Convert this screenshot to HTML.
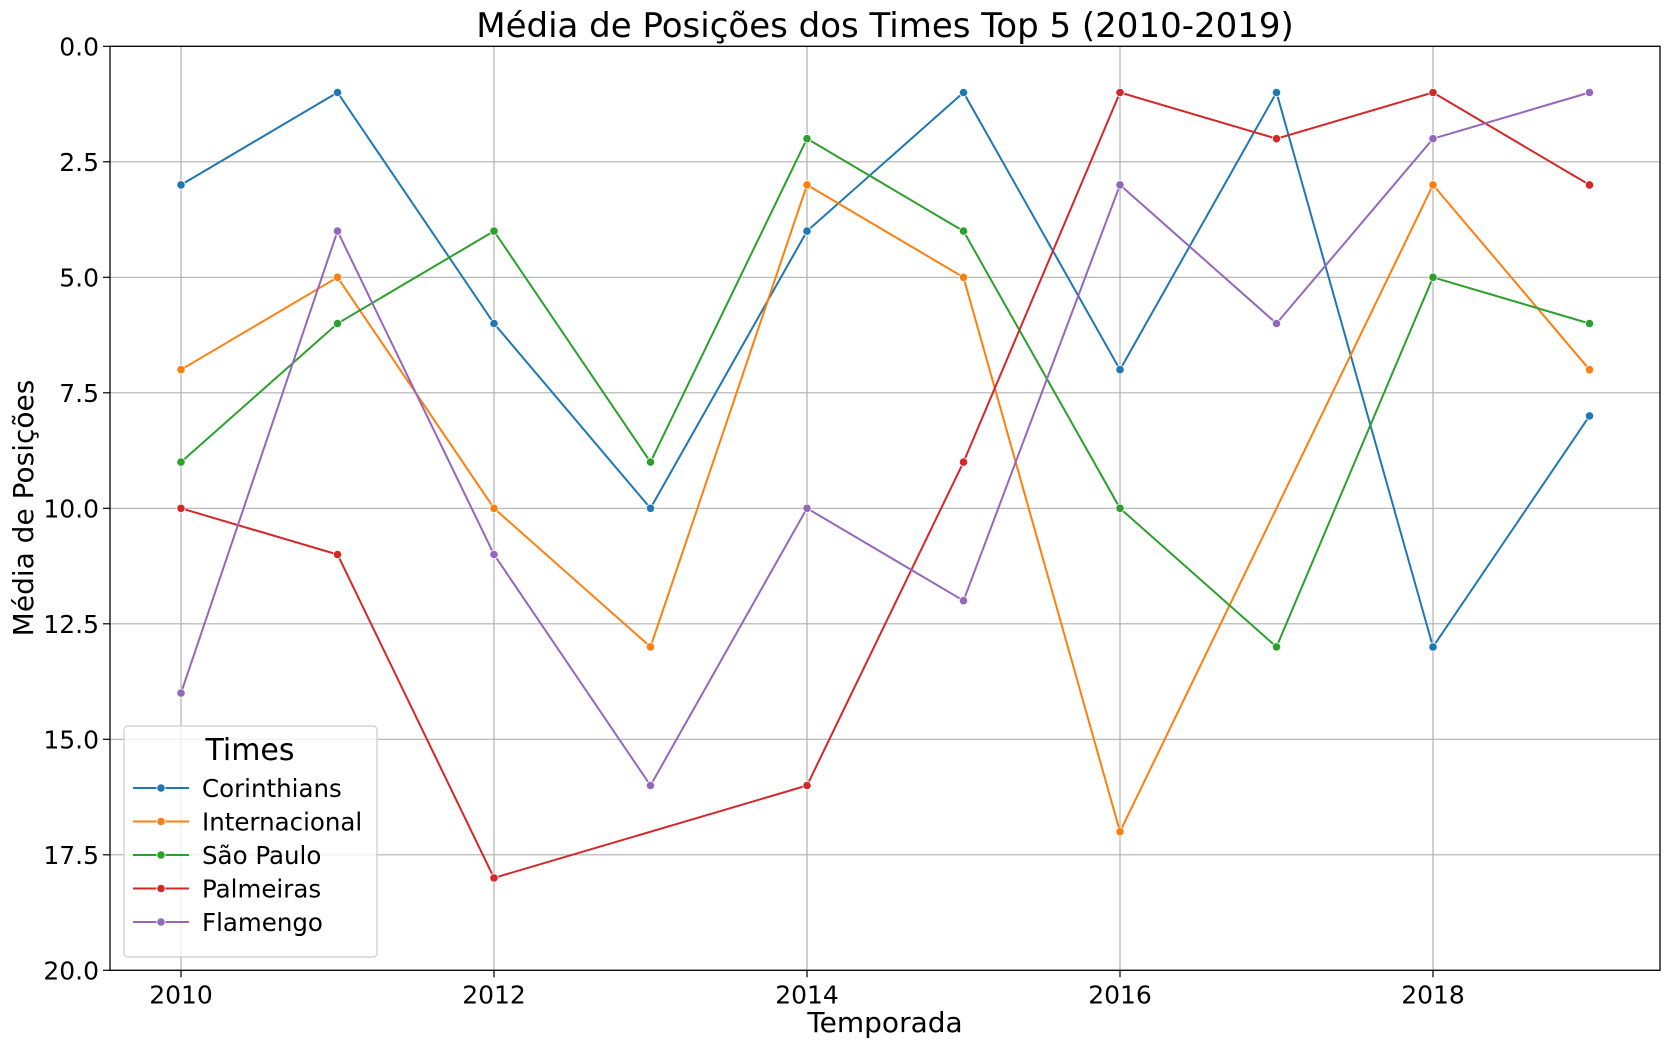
<!DOCTYPE html>
<html><head><meta charset="utf-8"><style>
body{margin:0;background:#fff;}
svg text{font-family:"DejaVu Sans","Liberation Sans",sans-serif;fill:#000;}
</style></head><body>
<svg id="chart" width="1670" height="1047" xmlns="http://www.w3.org/2000/svg">
<rect width="1670" height="1047" fill="#fff"/>
<g id="grid"></g>
<g id="lines"></g>
<rect x="110" y="46.3" width="1550" height="924" fill="none" stroke="#000" stroke-width="1.3"/>
<g id="ticks"></g>
<text x="885" y="37" font-size="34" text-anchor="middle">Média de Posições dos Times Top 5 (2010-2019)</text>
<text x="885" y="1032" font-size="28" text-anchor="middle">Temporada</text>
<text transform="translate(33,508) rotate(-90)" font-size="28" text-anchor="middle">Média de Posições</text>
<g id="legend"></g>
</svg>
<script>
const years=[2010,2011,2012,2013,2014,2015,2016,2017,2018,2019];
const teams=["Corinthians","Internacional","São Paulo","Palmeiras","Flamengo"];
const corinthians=[3,1,6,10,4,1,7,1,13,8];
const internacional=[7,5,10,13,3,5,17,null,3,7];
const saoPaulo=[9,6,4,9,2,4,10,13,5,6];
const palmeiras=[10,11,18,null,16,9,1,2,1,3];
const flamengo=[14,4,11,16,10,12,3,6,2,1];
const xTicks=[2010,2012,2014,2016,2018];
const yTicks=[0,2.5,5,7.5,10,12.5,15,17.5,20];
const colors=["#1f77b4","#ff7f0e","#2ca02c","#d62728","#9467bd"];
const series=[corinthians,internacional,saoPaulo,palmeiras,flamengo];
const L=110,R=1660,T=46.3,B=970.3;
const x=v=>181+(v-2010)*(1433-181)/8;
const y=v=>T+(v-0)*(B-T)/20;
const NS="http://www.w3.org/2000/svg";
function mk(tag,attrs,parent){const e=document.createElementNS(NS,tag);for(const k in attrs)e.setAttribute(k,attrs[k]);parent.appendChild(e);return e;}
const grid=document.getElementById('grid'),ticks=document.getElementById('ticks'),lines=document.getElementById('lines'),leg=document.getElementById('legend');
xTicks.forEach(t=>{
 const g=mk('line',{x1:x(t),x2:x(t),y1:T,y2:B,stroke:'#b0b0b0','stroke-width':1.2},grid);
 
 
 mk('line',{x1:x(t),x2:x(t),y1:B,y2:B+7,stroke:'#000','stroke-width':1.2},ticks);
 const tx=mk('text',{x:x(t),y:B+33,'font-size':25,'text-anchor':'middle'},ticks);
 tx.textContent=t;
 
 
});
yTicks.forEach(t=>{
 const g=mk('line',{x1:L,x2:R,y1:y(t),y2:y(t),stroke:'#b0b0b0','stroke-width':1.2},grid);
 
 
 mk('line',{x1:L-7,x2:L,y1:y(t),y2:y(t),stroke:'#000','stroke-width':1.2},ticks);
 const tx=mk('text',{x:L-11,y:y(t)+9,'font-size':25,'text-anchor':'end'},ticks);
 tx.textContent=t.toFixed(1);
 
 
});
series.forEach((s,i)=>{
 const pts=[];
 s.forEach((v,j)=>{if(v!==null)pts.push(x(years[j])+','+y(v));});
 const p=mk('polyline',{points:pts.join(' '),fill:'none',stroke:colors[i],'stroke-width':2},lines);
 
 
 s.forEach((v,j)=>{
  if(v===null)return;
  const c=mk('circle',{cx:x(years[j]),cy:y(v),r:4.2,fill:colors[i],stroke:'#fff','stroke-width':0.8},lines);
  
  
 });
});
mk('rect',{x:124,y:726,width:253,height:231,rx:4,fill:'#fff','fill-opacity':0.8,stroke:'#ccc','stroke-width':1.2},leg);
const lt=mk('text',{x:250,y:760,'font-size':30,'text-anchor':'middle'},leg);
lt.textContent='Times';


teams.forEach((n,i)=>{
 const yy=788+i*33.5;
 mk('line',{x1:133,x2:189,y1:yy,y2:yy,stroke:colors[i],'stroke-width':2},leg);
 mk('circle',{cx:161,cy:yy,r:4.2,fill:colors[i],stroke:'#fff','stroke-width':0.8},leg);
 const t=mk('text',{x:202,y:yy+9,'font-size':24.5},leg);
 t.textContent=n;
 
 
});
</script>
</body></html>
